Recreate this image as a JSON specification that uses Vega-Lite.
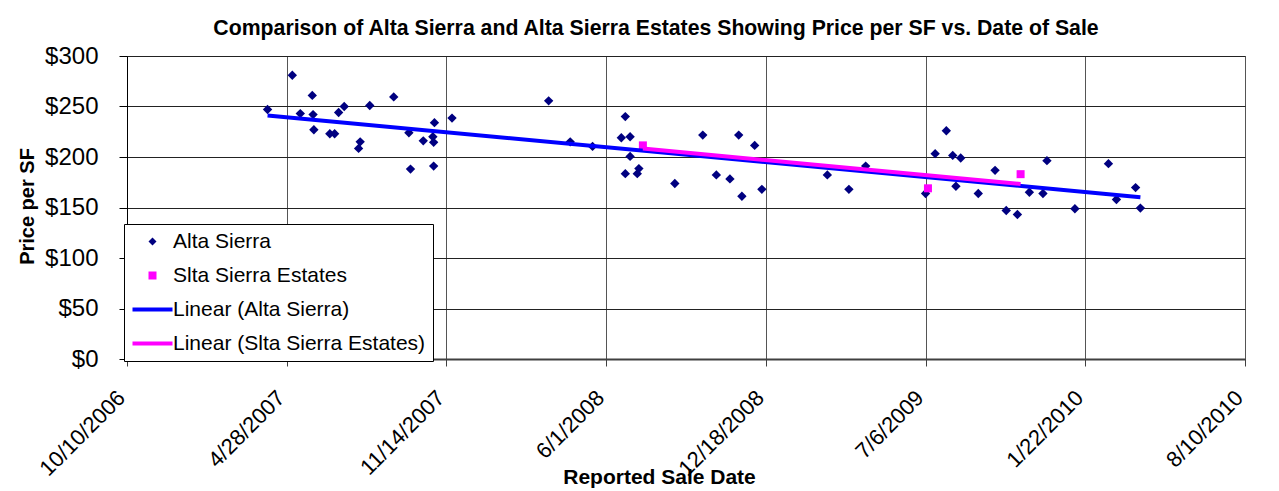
{
  "$schema": "https://vega.github.io/schema/vega-lite/v6.json",
  "width": 1118,
  "height": 303,
  "autosize": {"type": "none"},
  "padding": {"left": 127, "top": 56, "right": 34, "bottom": 132},
  "background": "white",
  "title": {
    "text": "Comparison of Alta Sierra and Alta Sierra Estates Showing Price per SF vs. Date of Sale",
    "font": "Liberation Sans",
    "fontSize": 21.25,
    "fontWeight": "bold",
    "color": "black",
    "anchor": "middle",
    "frame": "group",
    "dx": -30,
    "baseline": "alphabetic",
    "offset": -12
  },
  "config": {
    "view": {"stroke": "#666666", "strokeWidth": 1},
    "axis": {"labelFont": "Liberation Sans", "titleFont": "Liberation Sans", "labelColor": "black", "titleColor": "black"}
  },
  "data": {
    "format": {"parse": {"date": "date"}},
    "values": [
      {"date": "2007-04-04", "price": 247, "series": "Alta Sierra", "trend": "Linear (Alta Sierra)"},
      {"date": "2007-05-05", "price": 281, "series": "Alta Sierra", "trend": "Linear (Alta Sierra)"},
      {"date": "2007-05-15", "price": 243, "series": "Alta Sierra", "trend": "Linear (Alta Sierra)"},
      {"date": "2007-05-30", "price": 261, "series": "Alta Sierra", "trend": "Linear (Alta Sierra)"},
      {"date": "2007-05-31", "price": 242, "series": "Alta Sierra", "trend": "Linear (Alta Sierra)"},
      {"date": "2007-06-01", "price": 227, "series": "Alta Sierra", "trend": "Linear (Alta Sierra)"},
      {"date": "2007-06-21", "price": 223, "series": "Alta Sierra", "trend": "Linear (Alta Sierra)"},
      {"date": "2007-06-27", "price": 223, "series": "Alta Sierra", "trend": "Linear (Alta Sierra)"},
      {"date": "2007-07-02", "price": 244, "series": "Alta Sierra", "trend": "Linear (Alta Sierra)"},
      {"date": "2007-07-09", "price": 250, "series": "Alta Sierra", "trend": "Linear (Alta Sierra)"},
      {"date": "2007-07-29", "price": 215, "series": "Alta Sierra", "trend": "Linear (Alta Sierra)"},
      {"date": "2007-07-27", "price": 208.5, "series": "Alta Sierra", "trend": "Linear (Alta Sierra)"},
      {"date": "2007-08-10", "price": 251, "series": "Alta Sierra", "trend": "Linear (Alta Sierra)"},
      {"date": "2007-09-09", "price": 259.5, "series": "Alta Sierra", "trend": "Linear (Alta Sierra)"},
      {"date": "2007-09-28", "price": 224, "series": "Alta Sierra", "trend": "Linear (Alta Sierra)"},
      {"date": "2007-09-30", "price": 188, "series": "Alta Sierra", "trend": "Linear (Alta Sierra)"},
      {"date": "2007-10-16", "price": 216, "series": "Alta Sierra", "trend": "Linear (Alta Sierra)"},
      {"date": "2007-10-28", "price": 220, "series": "Alta Sierra", "trend": "Linear (Alta Sierra)"},
      {"date": "2007-10-29", "price": 214.5, "series": "Alta Sierra", "trend": "Linear (Alta Sierra)"},
      {"date": "2007-10-30", "price": 234, "series": "Alta Sierra", "trend": "Linear (Alta Sierra)"},
      {"date": "2007-10-29", "price": 191, "series": "Alta Sierra", "trend": "Linear (Alta Sierra)"},
      {"date": "2007-11-21", "price": 238.5, "series": "Alta Sierra", "trend": "Linear (Alta Sierra)"},
      {"date": "2008-03-21", "price": 255.6, "series": "Alta Sierra", "trend": "Linear (Alta Sierra)"},
      {"date": "2008-04-17", "price": 215, "series": "Alta Sierra", "trend": "Linear (Alta Sierra)"},
      {"date": "2008-05-15", "price": 210.5, "series": "Alta Sierra", "trend": "Linear (Alta Sierra)"},
      {"date": "2008-06-25", "price": 240, "series": "Alta Sierra", "trend": "Linear (Alta Sierra)"},
      {"date": "2008-06-20", "price": 219, "series": "Alta Sierra", "trend": "Linear (Alta Sierra)"},
      {"date": "2008-07-01", "price": 220, "series": "Alta Sierra", "trend": "Linear (Alta Sierra)"},
      {"date": "2008-07-01", "price": 200.6, "series": "Alta Sierra", "trend": "Linear (Alta Sierra)"},
      {"date": "2008-06-25", "price": 183.5, "series": "Alta Sierra", "trend": "Linear (Alta Sierra)"},
      {"date": "2008-07-12", "price": 188.5, "series": "Alta Sierra", "trend": "Linear (Alta Sierra)"},
      {"date": "2008-07-10", "price": 183.5, "series": "Alta Sierra", "trend": "Linear (Alta Sierra)"},
      {"date": "2008-08-26", "price": 173.7, "series": "Alta Sierra", "trend": "Linear (Alta Sierra)"},
      {"date": "2008-09-30", "price": 221.7, "series": "Alta Sierra", "trend": "Linear (Alta Sierra)"},
      {"date": "2008-10-17", "price": 182.3, "series": "Alta Sierra", "trend": "Linear (Alta Sierra)"},
      {"date": "2008-11-03", "price": 178.3, "series": "Alta Sierra", "trend": "Linear (Alta Sierra)"},
      {"date": "2008-11-14", "price": 221.7, "series": "Alta Sierra", "trend": "Linear (Alta Sierra)"},
      {"date": "2008-11-18", "price": 161.2, "series": "Alta Sierra", "trend": "Linear (Alta Sierra)"},
      {"date": "2008-12-04", "price": 211.5, "series": "Alta Sierra", "trend": "Linear (Alta Sierra)"},
      {"date": "2008-12-13", "price": 168, "series": "Alta Sierra", "trend": "Linear (Alta Sierra)"},
      {"date": "2009-03-05", "price": 182.3, "series": "Alta Sierra", "trend": "Linear (Alta Sierra)"},
      {"date": "2009-04-01", "price": 168, "series": "Alta Sierra", "trend": "Linear (Alta Sierra)"},
      {"date": "2009-04-22", "price": 191, "series": "Alta Sierra", "trend": "Linear (Alta Sierra)"},
      {"date": "2009-07-06", "price": 163.8, "series": "Alta Sierra", "trend": "Linear (Alta Sierra)"},
      {"date": "2009-07-18", "price": 203.3, "series": "Alta Sierra", "trend": "Linear (Alta Sierra)"},
      {"date": "2009-08-01", "price": 226, "series": "Alta Sierra", "trend": "Linear (Alta Sierra)"},
      {"date": "2009-08-09", "price": 201.6, "series": "Alta Sierra", "trend": "Linear (Alta Sierra)"},
      {"date": "2009-08-19", "price": 199, "series": "Alta Sierra", "trend": "Linear (Alta Sierra)"},
      {"date": "2009-08-13", "price": 171, "series": "Alta Sierra", "trend": "Linear (Alta Sierra)"},
      {"date": "2009-09-10", "price": 163.8, "series": "Alta Sierra", "trend": "Linear (Alta Sierra)"},
      {"date": "2009-10-01", "price": 186.8, "series": "Alta Sierra", "trend": "Linear (Alta Sierra)"},
      {"date": "2009-10-15", "price": 147, "series": "Alta Sierra", "trend": "Linear (Alta Sierra)"},
      {"date": "2009-10-29", "price": 143.1, "series": "Alta Sierra", "trend": "Linear (Alta Sierra)"},
      {"date": "2009-11-13", "price": 165.1, "series": "Alta Sierra", "trend": "Linear (Alta Sierra)"},
      {"date": "2009-11-30", "price": 163.8, "series": "Alta Sierra", "trend": "Linear (Alta Sierra)"},
      {"date": "2009-12-05", "price": 196.4, "series": "Alta Sierra", "trend": "Linear (Alta Sierra)"},
      {"date": "2010-01-09", "price": 148.7, "series": "Alta Sierra", "trend": "Linear (Alta Sierra)"},
      {"date": "2010-02-20", "price": 193.4, "series": "Alta Sierra", "trend": "Linear (Alta Sierra)"},
      {"date": "2010-03-02", "price": 157.9, "series": "Alta Sierra", "trend": "Linear (Alta Sierra)"},
      {"date": "2010-03-26", "price": 169.7, "series": "Alta Sierra", "trend": "Linear (Alta Sierra)"},
      {"date": "2010-04-01", "price": 149.4, "series": "Alta Sierra", "trend": "Linear (Alta Sierra)"},
      {"date": "2008-07-17", "price": 211.5, "series": "Slta Sierra Estates", "trend": "Linear (Slta Sierra Estates)"},
      {"date": "2009-07-09", "price": 169, "series": "Slta Sierra Estates", "trend": "Linear (Slta Sierra Estates)"},
      {"date": "2009-11-02", "price": 183, "series": "Slta Sierra Estates", "trend": "Linear (Slta Sierra Estates)"}
    ]
  },
  "encoding": {
    "x": {
      "field": "date",
      "type": "temporal",
      "scale": {
        "type": "utc",
        "domain": [{"year": 2006, "month": 10, "date": 10, "utc": true}, {"year": 2010, "month": 8, "date": 10, "utc": true}],
        "nice": false
      },
      "axis": {
        "title": "Reported Sale Date",
        "titleFontSize": 21,
        "titleFontWeight": "bold",
        "titleX": 532,
        "titleY": 124,
        "titleBaseline": "alphabetic",
        "titleAnchor": "middle",
        "titleAlign": "center",
        "values": [
          {"year": 2006, "month": 10, "date": 10, "utc": true},
          {"year": 2007, "month": 4, "date": 28, "utc": true},
          {"year": 2007, "month": 11, "date": 14, "utc": true},
          {"year": 2008, "month": 6, "date": 1, "utc": true},
          {"year": 2008, "month": 12, "date": 18, "utc": true},
          {"year": 2009, "month": 7, "date": 6, "utc": true},
          {"year": 2010, "month": 1, "date": 22, "utc": true},
          {"year": 2010, "month": 8, "date": 10, "utc": true}
        ],
        "format": "%-m/%-d/%Y",
        "labelAngle": -45,
        "labelAlign": "right",
        "labelBaseline": "middle",
        "labelFontSize": 22,
        "labelPadding": 28,
        "labelOffset": -6,
        "labelOverlap": false,
        "labelBound": false,
        "labelFlush": false,
        "tickSize": 7,
        "tickColor": "#404040",
        "domainColor": "#404040",
        "domainWidth": 2,
        "grid": true,
        "gridColor": "#555555",
        "gridOpacity": 1
      }
    },
    "y": {
      "field": "price",
      "type": "quantitative",
      "scale": {"domain": [0, 300], "nice": false, "zero": true},
      "axis": {
        "title": "Price per SF",
        "titleFontSize": 20,
        "titleFontWeight": "bold",
        "titleAngle": -90,
        "titleX": -94,
        "titleY": 150,
        "titleBaseline": "alphabetic",
        "titleAlign": "center",
        "titleAnchor": "middle",
        "values": [0, 50, 100, 150, 200, 250, 300],
        "format": "$.0f",
        "labelFontSize": 24,
        "labelPadding": 21,
        "tickSize": 8,
        "tickColor": "black",
        "domainColor": "black",
        "grid": true,
        "gridColor": "#222222",
        "gridOpacity": 1
      }
    }
  },
  "layer": [
    {
      "mark": {"type": "point", "filled": true, "opacity": 1},
      "encoding": {
        "color": {
          "field": "series",
          "type": "nominal",
          "scale": {
            "domain": ["Alta Sierra", "Slta Sierra Estates", "Linear (Alta Sierra)", "Linear (Slta Sierra Estates)"],
            "range": ["#000080", "#FF00FF", "#0000FF", "#FF00FF"]
          },
          "legend": {
            "title": null,
            "orient": "none",
            "legendX": -3,
            "legendY": 168,
            "labelFont": "Liberation Sans",
            "labelFontSize": 21,
            "labelColor": "black",
            "labelLimit": 0,
            "labelOffset": 10,
            "symbolOffset": 11,
            "symbolSize": 64,
            "padding": 7,
            "rowPadding": 12,
            "strokeColor": "black",
            "fillColor": "white",
            "cornerRadius": 0,
            "symbolOpacity": 1,
            "symbolStrokeWidth": 0
          }
        },
        "shape": {
          "field": "series",
          "type": "nominal",
          "scale": {
            "domain": ["Alta Sierra", "Slta Sierra Estates", "Linear (Alta Sierra)", "Linear (Slta Sierra Estates)"],
            "range": ["diamond", "square", "M-5,-0.5H5V0.5H-5Z", "M-5,-0.5H5V0.5H-5Z"]
          }
        },
        "size": {
          "condition": {"test": "datum.series === 'Slta Sierra Estates'", "value": 64},
          "value": 88
        }
      }
    },
    {
      "transform": [{"regression": "price", "on": "date", "groupby": ["series", "trend"]}],
      "mark": {"type": "line", "strokeWidth": 4},
      "encoding": {
        "color": {
          "field": "trend",
          "type": "nominal",
          "scale": {
            "domain": ["Alta Sierra", "Slta Sierra Estates", "Linear (Alta Sierra)", "Linear (Slta Sierra Estates)"],
            "range": ["#000080", "#FF00FF", "#0000FF", "#FF00FF"]
          },
          "legend": null
        }
      }
    }
  ]
}
